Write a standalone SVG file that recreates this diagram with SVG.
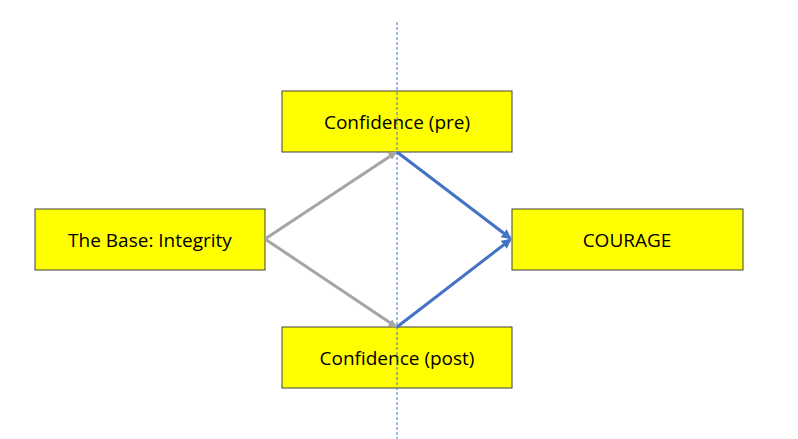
<svg xmlns="http://www.w3.org/2000/svg" width="798" height="439" viewBox="0 0 798 439">
<style>
.box{fill:#ffff00;stroke:#404040;stroke-width:1}
.t{font-family:"Open Sans","Liberation Sans",sans-serif;font-size:19px;fill:#000;text-anchor:middle;dominant-baseline:central}
.g{stroke:#a5a5a5;stroke-width:3;fill:none}
.b{stroke:#4472c4;stroke-width:3;fill:none}
</style>
<defs>
<marker id="ag" markerWidth="8" markerHeight="8" refX="6" refY="4" orient="auto" markerUnits="userSpaceOnUse" viewBox="0 0 8 8"><path d="M0,0 L8,4 L0,8 z" fill="#a5a5a5"/></marker>
<marker id="ab" markerWidth="10" markerHeight="10" refX="8" refY="5" orient="auto" markerUnits="userSpaceOnUse" viewBox="0 0 10 10"><path d="M0,0 L10,5 L0,10 z" fill="#4472c4"/></marker>
</defs>
<rect width="798" height="439" fill="#fff"/>
<g id="base"><rect class="box" x="35" y="209" width="230" height="61"/><text class="t" x="150" y="240">The Base: Integrity</text></g>
<g id="pre"><rect class="box" x="282" y="91" width="230" height="61"/><text class="t" x="397" y="122">Confidence (pre)</text></g>
<g id="courage"><rect class="box" x="512" y="209" width="231" height="61"/><text class="t" x="627" y="240">COURAGE</text></g>
<g id="post"><rect class="box" x="282" y="327" width="230" height="61"/><text class="t" x="397" y="358">Confidence (post)</text></g>
<g id="connectors">
<line class="g" x1="265" y1="239" x2="395" y2="153" marker-end="url(#ag)"/>
<line class="g" x1="265" y1="239" x2="395" y2="326" marker-end="url(#ag)"/>
<line class="b" x1="397" y1="152" x2="510" y2="238" marker-end="url(#ab)"/>
<line class="b" x1="397" y1="327" x2="510" y2="240" marker-end="url(#ab)"/>
</g>
<line x1="397" y1="22" x2="397" y2="439" stroke="#4472c4" stroke-width="1" stroke-dasharray="3,2"/>
</svg>
